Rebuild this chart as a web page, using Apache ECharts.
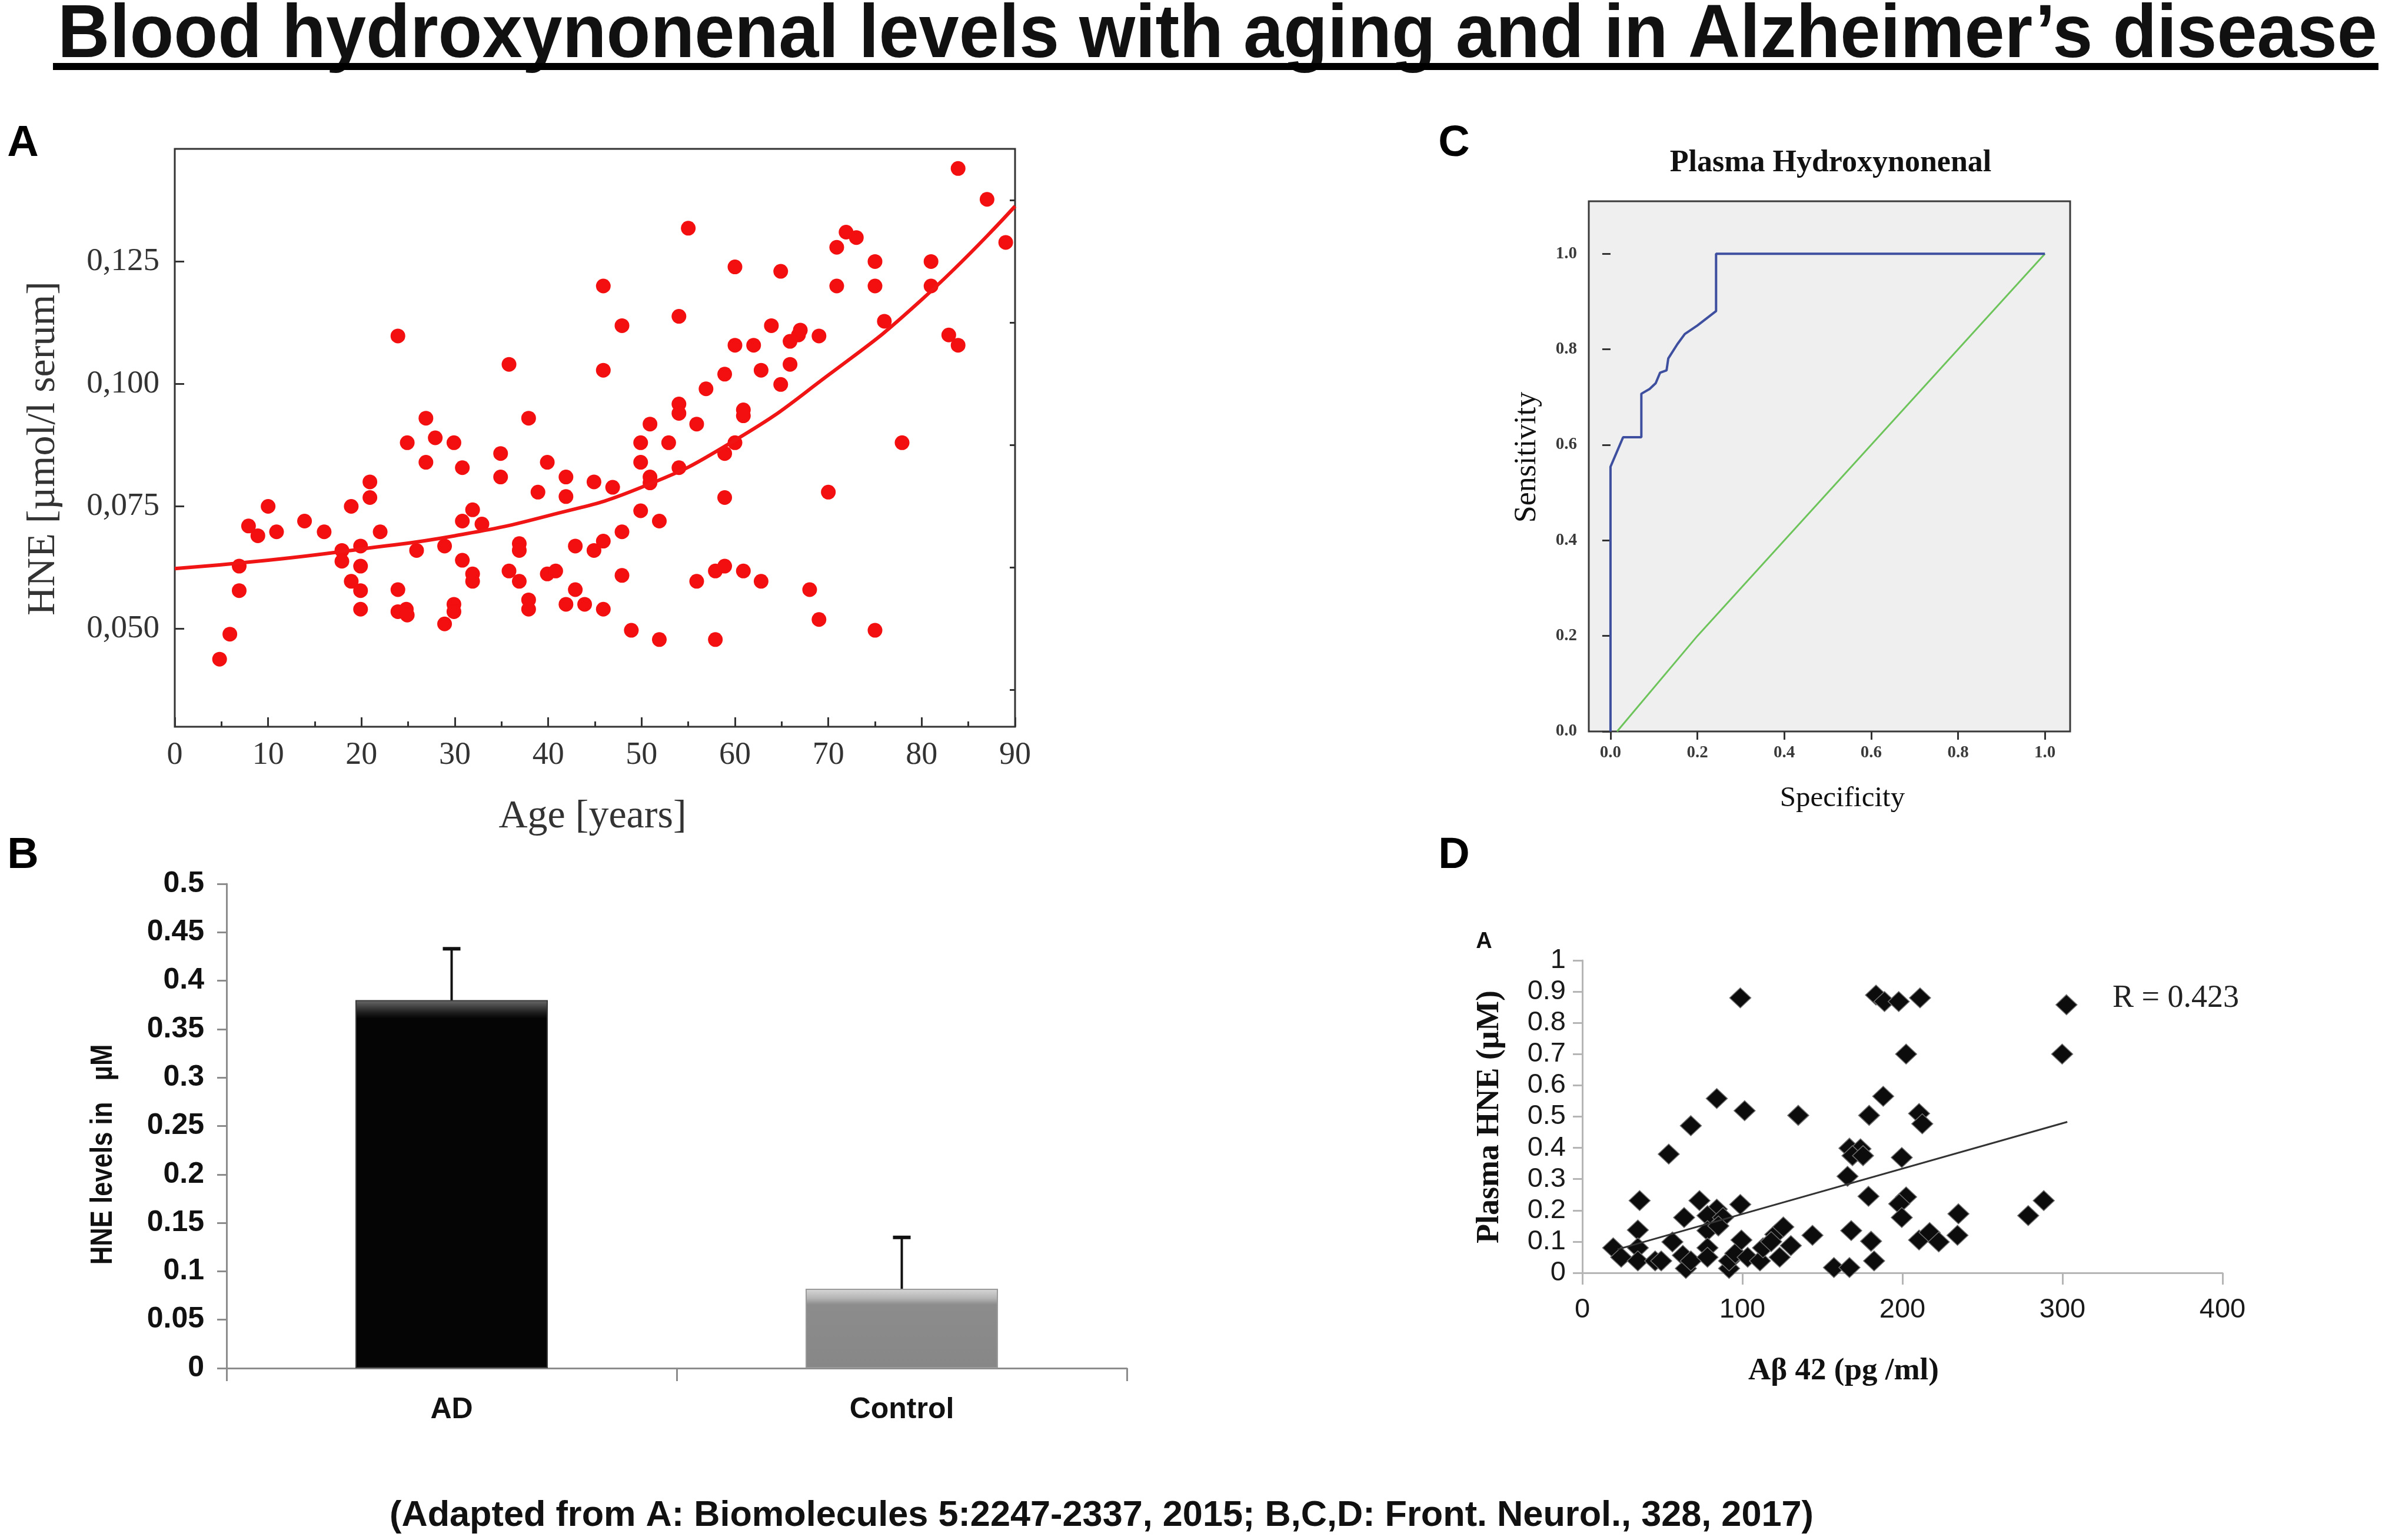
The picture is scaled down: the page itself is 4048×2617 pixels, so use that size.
<!DOCTYPE html>
<html>
<head>
<meta charset="utf-8">
<title>Blood hydroxynonenal levels with aging and in Alzheimer's disease</title>
<script src="https://cdn.jsdelivr.net/npm/echarts@6/dist/echarts.min.js"></script>
<style>
html, body { margin: 0; padding: 0; background: #fff; }
#main { width: 4048px; height: 2617px; }
</style>
</head>
<body>
<div id="main"></div>
<script>
// ---- panel A : HNE vs age ----
var ageHne = [
  [4.8,0.0438],[5.9,0.0489],[6.9,0.0578],[6.9,0.0628],[7.9,0.071],[8.9,0.069],
  [10,0.075],[10.9,0.0698],[13.9,0.072],[16,0.0698],[17.9,0.066],[17.9,0.0638],
  [18.9,0.075],[18.9,0.0597],[19.9,0.0669],[19.9,0.0628],[19.9,0.0578],[19.9,0.054],
  [20.9,0.080],[20.9,0.0768],[22,0.0698],[23.9,0.1098],[23.9,0.058],[23.9,0.0535],
  [24.8,0.054],[24.9,0.0528],[24.9,0.088],[25.9,0.066],[26.9,0.093],[26.9,0.084],
  [27.9,0.089],[28.9,0.0669],[28.9,0.051],[29.9,0.088],[29.9,0.055],[29.9,0.0535],
  [30.8,0.0829],[30.8,0.072],[30.8,0.064],[31.9,0.0743],[31.9,0.0612],[31.9,0.0597],
  [32.9,0.0714],[34.9,0.0858],[34.9,0.081],[35.8,0.104],[35.8,0.0618],[36.9,0.0674],
  [36.9,0.066],[36.9,0.0597],[37.9,0.093],[37.9,0.0559],[37.9,0.054],[38.9,0.0779],
  [39.9,0.084],[39.9,0.0612],[40.8,0.0618],[41.9,0.081],[41.9,0.077],[41.9,0.055],
  [42.9,0.0669],[42.9,0.058],[43.9,0.055],[44.9,0.066],[44.9,0.080],[45.9,0.120],
  [45.9,0.1028],[45.9,0.0679],[45.9,0.054],[46.9,0.0789],[47.9,0.1119],[47.9,0.0698],
  [47.9,0.0609],[48.9,0.0497],[49.9,0.088],[49.9,0.084],[49.9,0.0741],[50.9,0.0918],
  [50.9,0.081],[50.9,0.0798],[51.9,0.072],[51.9,0.0478],[52.9,0.088],[54,0.1138],
  [54,0.0959],[54,0.094],[54,0.0829],[55,0.1318],[55.9,0.0918],[55.9,0.0597],
  [56.9,0.099],[57.9,0.0618],[57.9,0.0478],[58.9,0.102],[58.9,0.0858],[58.9,0.0768],
  [58.9,0.0628],[60,0.1239],[60,0.1079],[60,0.088],[60.9,0.0947],[60.9,0.0935],
  [60.9,0.0618],[62,0.1079],[62.8,0.1028],[62.8,0.0597],[63.9,0.1119],[64.9,0.123],
  [64.9,0.0999],[65.9,0.1087],[65.9,0.104],[66.8,0.110],[67,0.111],[68,0.058],
  [69,0.1098],[69,0.0519],[70,0.0779],[70.9,0.1279],[70.9,0.120],[71.9,0.131],
  [73,0.1299],[75,0.125],[75,0.120],[75,0.0497],[76,0.1128],[77.9,0.088],
  [81,0.125],[81,0.120],[82.9,0.110],[83.9,0.1079],[83.9,0.144],[87,0.1377],[89,0.1289]
];
var fitAge = [0, 10, 20, 30, 40, 50, 60, 70, 80, 90];
var fitHne = [0.0623, 0.064, 0.0663, 0.069, 0.0731, 0.0789, 0.0885, 0.1018, 0.1172, 0.1363];
var aTickValues = [0.05, 0.075, 0.1, 0.125];
var aTickLabels = ['0,050', '0,075', '0,100', '0,125'];
var aMinorTicks = [0.0375, 0.0625, 0.0875, 0.1125, 0.1375];

// ---- panel B : AD vs control ----
var groups = ['AD', 'Control'];
var groupMeans = [0.38, 0.082];
var groupErrs = [0.053, 0.053];

// ---- panel C : ROC ----
var rocX = [0, 0, 0.029, 0.071, 0.071, 0.09, 0.104, 0.114, 0.129, 0.133, 0.154, 0.171, 0.2, 0.243, 0.243, 1.0];
var rocY = [0, 0.554, 0.616, 0.616, 0.707, 0.717, 0.729, 0.751, 0.756, 0.781, 0.811, 0.832, 0.85, 0.88, 1.0, 1.0];
var diagX = [0.015, 0.2, 0.6, 1.0];
var diagY = [0, 0.2, 0.6, 1.0];
var rocTicks = [0, 0.2, 0.4, 0.6, 0.8, 1.0];

// ---- panel D : HNE vs Abeta42 ----
var abHne = [
  [98.7,0.88],[183.5,0.889],[188.8,0.868],[197.7,0.868],[211,0.88],[302.5,0.858],
  [202.3,0.70],[299.8,0.70],[84,0.558],[188,0.565],[101.4,0.519],[134.9,0.504],
  [179.2,0.504],[210.4,0.51],[212.4,0.477],[67.8,0.471],[54,0.38],[166.9,0.399],
  [173.8,0.397],[168.8,0.375],[175.4,0.375],[199.6,0.369],[165.7,0.309],[178.8,0.245],
  [202.3,0.243],[198,0.221],[35.8,0.231],[73.2,0.231],[98.7,0.219],[84,0.204],
  [78.2,0.183],[87.9,0.177],[63.6,0.177],[199.6,0.177],[235,0.189],[278.6,0.183],
  [288.3,0.231],[19.3,0.08],[24.3,0.05],[34.7,0.137],[34.7,0.08],[34.7,0.038],
  [45.5,0.038],[49.3,0.038],[56.3,0.099],[62.8,0.056],[64.7,0.014],[67.8,0.038],
  [78.2,0.135],[78.2,0.08],[78.2,0.05],[91.7,0.014],[91.7,0.038],[95.6,0.062],
  [99.4,0.105],[103.3,0.05],[111,0.038],[112.9,0.08],[120.6,0.123],[123.3,0.05],
  [125.6,0.147],[130.3,0.087],[143.8,0.12],[157.2,0.017],[166.9,0.017],[168,0.135],
  [180.4,0.101],[182.3,0.038],[210.4,0.105],[217,0.129],[222.7,0.099],[234.4,0.12],
  [118,0.1],[85,0.15]
];
var trendAb = [22, 303];
var trendHne = [0.075, 0.483];

var SERIF = '"Liberation Serif", "Times New Roman", serif';
var SANS = '"Liberation Sans", Arial, sans-serif';

function zip(a, b) {
  return a.map(function (v, i) { return [v, b[i]]; });
}

function fitScale(text, font, width) {
  var ctx = document.createElement('canvas').getContext('2d');
  ctx.font = font;
  return width / ctx.measureText(text).width;
}

function txt(text, x, y, font, opts) {
  opts = opts || {};
  return {
    type: 'text', x: x, y: y,
    rotation: opts.rotation || 0,
    scaleX: opts.scaleX || 1,
    style: {
      text: text, font: font, fill: opts.fill || '#111',
      align: opts.align || 'center', verticalAlign: 'middle',
      textAlign: opts.align || 'center', textVerticalAlign: 'middle'
    }
  };
}

var titleText = 'Blood hydroxynonenal levels with aging and in Alzheimer\u2019s disease';
var titleFont = 'bold 128px ' + SANS;
var footText = '(Adapted from A: Biomolecules 5:2247-2337, 2015; B,C,D: Front. Neurol., 328, 2017)';
var footFont = 'bold 61px ' + SANS;

var myChart = echarts.init(document.getElementById('main'));

var tickStyle = { color: '#333', width: 3 };

var option = {
  backgroundColor: '#fff',
  animation: false,
  grid: [
    { left: 297, top: 253, width: 1428, height: 982, show: true, borderColor: '#333', borderWidth: 3, backgroundColor: 'transparent' },
    { left: 385, top: 1502, width: 1530, height: 823 },
    { left: 2700, top: 342, width: 818, height: 901, show: true, borderColor: '#3a3a3a', borderWidth: 3, backgroundColor: '#efefef' },
    { left: 2689, top: 1632, width: 1088, height: 531 }
  ],
  xAxis: [
    {
      gridIndex: 0, type: 'value', min: 0, max: 90, interval: 10,
      axisLine: { show: false },
      axisTick: { show: true, inside: true, length: 16, lineStyle: tickStyle },
      minorTick: { show: true, splitNumber: 2, length: 9, lineStyle: tickStyle },
      axisLabel: { fontFamily: SERIF, fontSize: 54, color: '#333', margin: 22 },
      splitLine: { show: false }
    },
    {
      gridIndex: 1, type: 'category', data: groups,
      axisLine: { show: true, lineStyle: { color: '#8c8c8c', width: 3 } },
      axisTick: { show: true, length: 22, lineStyle: { color: '#8c8c8c', width: 3 } },
      axisLabel: { fontFamily: SANS, fontWeight: 'bold', fontSize: 50, color: '#111', margin: 46 }
    },
    {
      gridIndex: 2, type: 'value', min: -0.05, max: 1.058,
      axisLine: { show: false },
      axisTick: { show: true, customValues: rocTicks, length: 14, lineStyle: { color: '#333', width: 3 } },
      axisLabel: {
        customValues: rocTicks, fontFamily: SERIF, fontWeight: 'bold', fontSize: 29, color: '#3a3a3a', margin: 22,
        formatter: function (v) { return v.toFixed(1); }
      },
      splitLine: { show: false }
    },
    {
      gridIndex: 3, type: 'value', min: 0, max: 400, interval: 100,
      axisLine: { show: true, lineStyle: { color: '#b5b5b5', width: 3 } },
      axisTick: { show: true, length: 20, lineStyle: { color: '#b5b5b5', width: 3 } },
      axisLabel: { fontFamily: SANS, fontSize: 47, color: '#1a1a1a', margin: 40 },
      splitLine: { show: false }
    }
  ],
  yAxis: [
    {
      gridIndex: 0, type: 'value', min: 0.03, max: 0.148,
      axisLine: { show: false },
      axisTick: { show: true, inside: true, customValues: aTickValues, length: 16, lineStyle: tickStyle },
      axisLabel: {
        customValues: aTickValues, fontFamily: SERIF, fontSize: 55, color: '#333', margin: 26,
        formatter: function (v) {
          for (var i = 0; i < aTickValues.length; i++) {
            if (Math.abs(aTickValues[i] - v) < 1e-9) return aTickLabels[i];
          }
          return '';
        }
      },
      splitLine: { show: false }
    },
    {
      gridIndex: 0, type: 'value', min: 0.03, max: 0.148,
      axisLine: { show: false },
      axisTick: { show: true, inside: true, customValues: aMinorTicks, length: 9, lineStyle: tickStyle },
      axisLabel: { show: false },
      splitLine: { show: false }
    },
    {
      gridIndex: 1, type: 'value', min: 0, max: 0.5, interval: 0.05,
      axisLine: { show: true, lineStyle: { color: '#8c8c8c', width: 3 } },
      axisTick: { show: true, length: 16, lineStyle: { color: '#8c8c8c', width: 3 } },
      axisLabel: { fontFamily: SANS, fontWeight: 'bold', fontSize: 50, color: '#111', margin: 38 },
      splitLine: { show: false }
    },
    {
      gridIndex: 2, type: 'value', min: 0, max: 1.11,
      axisLine: { show: false },
      axisTick: { show: true, customValues: rocTicks, length: 14, lineStyle: { color: '#333', width: 3 } },
      axisLabel: {
        customValues: rocTicks, fontFamily: SERIF, fontWeight: 'bold', fontSize: 29, color: '#3a3a3a', margin: 20,
        formatter: function (v) { return v.toFixed(1); }
      },
      splitLine: { show: false }
    },
    {
      gridIndex: 3, type: 'value', min: 0, max: 1, interval: 0.1,
      axisLine: { show: true, lineStyle: { color: '#b5b5b5', width: 3 } },
      axisTick: { show: true, length: 16, lineStyle: { color: '#b5b5b5', width: 3 } },
      axisLabel: { fontFamily: SANS, fontSize: 47, color: '#1a1a1a', margin: 28 },
      splitLine: { show: false }
    }
  ],
  series: [
    {
      type: 'scatter', xAxisIndex: 0, yAxisIndex: 0,
      data: ageHne, symbolSize: 25,
      itemStyle: { color: '#f30f0f', opacity: 1 }
    },
    {
      type: 'line', xAxisIndex: 0, yAxisIndex: 0,
      data: zip(fitAge, fitHne), smooth: true, showSymbol: false,
      lineStyle: { color: '#f01414', width: 6 }
    },
    {
      type: 'bar', xAxisIndex: 1, yAxisIndex: 2, barWidth: 327,
      data: [
        {
          value: groupMeans[0],
          itemStyle: {
            borderColor: '#3a3a3a', borderWidth: 2,
            color: new echarts.graphic.LinearGradient(0, 0, 0, 1, [
              { offset: 0, color: '#6a6a6a' }, { offset: 0.035, color: '#1c1c1c' },
              { offset: 0.05, color: '#050505' }, { offset: 1, color: '#050505' }
            ])
          }
        },
        {
          value: groupMeans[1],
          itemStyle: {
            borderColor: '#9a9a9a', borderWidth: 2,
            color: new echarts.graphic.LinearGradient(0, 0, 0, 1, [
              { offset: 0, color: '#d8d8d8' }, { offset: 0.12, color: '#b4b4b4' },
              { offset: 0.2, color: '#8c8c8c' }, { offset: 1, color: '#878787' }
            ])
          }
        }
      ]
    },
    {
      type: 'custom', xAxisIndex: 1, yAxisIndex: 2,
      data: groups.map(function (g, i) { return [i, groupMeans[i] - 0.006, groupMeans[i] + groupErrs[i]]; }),
      encode: { x: 0, y: [1, 2] },
      renderItem: function (params, api) {
        var lo = api.coord([api.value(0), api.value(1)]);
        var hi = api.coord([api.value(0), api.value(2)]);
        return {
          type: 'group',
          children: [
            { type: 'line', shape: { x1: lo[0], y1: lo[1], x2: hi[0], y2: hi[1] }, style: { stroke: '#111', lineWidth: 4 } },
            { type: 'line', shape: { x1: hi[0] - 15, y1: hi[1], x2: hi[0] + 15, y2: hi[1] }, style: { stroke: '#111', lineWidth: 6 } }
          ]
        };
      }
    },
    {
      type: 'line', xAxisIndex: 2, yAxisIndex: 3,
      data: zip(diagX, diagY), showSymbol: false,
      lineStyle: { color: '#6cc45a', width: 3 }
    },
    {
      type: 'line', xAxisIndex: 2, yAxisIndex: 3,
      data: zip(rocX, rocY), showSymbol: false,
      lineStyle: { color: '#3d4f9e', width: 4 }
    },
    {
      type: 'line', xAxisIndex: 3, yAxisIndex: 4,
      data: zip(trendAb, trendHne), showSymbol: false,
      lineStyle: { color: '#333', width: 3 }
    },
    {
      type: 'scatter', xAxisIndex: 3, yAxisIndex: 4,
      data: abHne, symbol: 'diamond', symbolSize: [36, 34],
      itemStyle: { color: '#0c0c0c', borderColor: '#6e6e6e', borderWidth: 1.5, opacity: 1 }
    }
  ],
  graphic: [
    txt(titleText, 98, 62, titleFont, { align: 'left', scaleX: fitScale(titleText, titleFont, 3942) }),
    { type: 'rect', shape: { x: 90, y: 107, width: 3952, height: 12 }, style: { fill: '#000' } },
    txt('A', 39, 245, 'bold 74px ' + SANS, { fill: '#000' }),
    txt('B', 39, 1455, 'bold 74px ' + SANS, { fill: '#000' }),
    txt('C', 2471, 245, 'bold 74px ' + SANS, { fill: '#000' }),
    txt('D', 2471, 1455, 'bold 74px ' + SANS, { fill: '#000' }),
    txt('HNE [\u00b5mol/l serum]', 74, 762, '68px ' + SERIF, { rotation: Math.PI / 2, fill: '#333' }),
    txt('Age [years]', 1007, 1388, '68px ' + SERIF, { fill: '#333' }),
    txt('HNE levels in   \u00b5M', 176, 1962, 'bold 52px ' + SANS, { rotation: Math.PI / 2, scaleX: 0.84 }),
    txt('Plasma Hydroxynonenal', 3111, 278, 'bold 52px ' + SERIF),
    txt('Sensitivity', 2595, 777, '52px ' + SERIF, { rotation: Math.PI / 2 }),
    txt('Specificity', 3131, 1357, '49px ' + SERIF),
    txt('A', 2522, 1601, 'bold 38px ' + SANS),
    txt('Plasma HNE (\u00b5M)', 2532, 1898, 'bold 54px ' + SERIF, { rotation: Math.PI / 2 }),
    txt('A\u03b2 42 (pg /ml)', 3133, 2330, 'bold 53px ' + SERIF),
    txt('R = 0.423', 3590, 1697, '54px ' + SERIF, { align: 'left', fill: '#222' }),
    txt(footText, 662, 2576, footFont, { align: 'left', scaleX: fitScale(footText, footFont, 2420) })
  ]
};

myChart.setOption(option);
</script>
</body>
</html>
